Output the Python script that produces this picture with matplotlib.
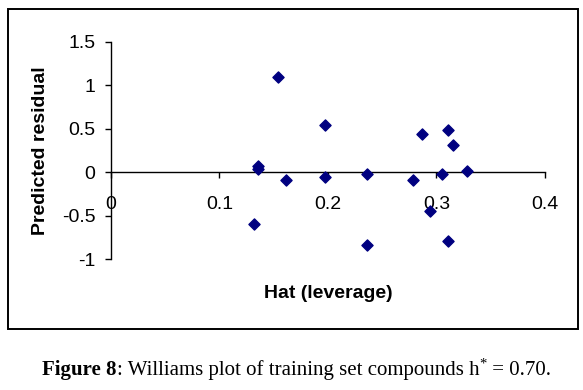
import matplotlib
matplotlib.use("Agg")
import matplotlib.pyplot as plt
from matplotlib.patches import Rectangle

# Williams plot data (hat value, predicted residual)
hat = [0.154, 0.197, 0.287, 0.311, 0.3155, 0.136, 0.136, 0.161, 0.197,
       0.236, 0.278, 0.305, 0.3286, 0.294, 0.1315, 0.236, 0.311]
residual = [1.09, 0.54, 0.44, 0.49, 0.31, 0.07, 0.035, -0.09, -0.055,
            -0.015, -0.09, -0.02, 0.015, -0.445, -0.60, -0.835, -0.795]

xticks = [0, 0.1, 0.2, 0.3, 0.4]
xticklabels = ["0", "0.1", "0.2", "0.3", "0.4"]
yticks = [-1, -0.5, 0, 0.5, 1, 1.5]
yticklabels = ["-1", "-0.5", "0", "0.5", "1", "1.5"]

W, H = 583, 390
fig = plt.figure(figsize=(W / 100, H / 100), dpi=100)
plt.rcParams['font.family'] = ['Liberation Sans', 'DejaVu Sans']

# chart border
fig.patches.append(Rectangle((8 / W, 1 - 328.5 / H), 570 / W, 319.5 / H,
                             transform=fig.transFigure, fill=False,
                             edgecolor='black', linewidth=1.4))

ax = fig.add_axes([110.8 / W, 1 - 259.3 / H, (545 - 110.8) / W, (259.3 - 41.7) / H])
ax.scatter(hat, residual, marker='D', s=32, color='#000080', zorder=3, clip_on=False)

ax.set_xlim(0, 0.4)
ax.set_ylim(-1, 1.5)
ax.spines['right'].set_visible(False)
ax.spines['top'].set_visible(False)
ax.spines['bottom'].set_position(('data', 0))
ax.spines['left'].set_linewidth(1.0)
ax.spines['bottom'].set_linewidth(1.0)

ax.set_xticks(xticks)
ax.set_xticklabels(xticklabels, fontsize=14)
ax.set_yticks(yticks)
ax.set_yticklabels(yticklabels, fontsize=14)
ax.tick_params(axis='x', direction='out', length=4, width=1, pad=13)
ax.tick_params(axis='y', direction='out', length=4, width=1, pad=7)

fig.text(41 / W, 1 - 151 / H, "Predicted residual", rotation=90, ha='center',
         va='center', fontsize=14, fontweight='bold')
fig.text(328 / W, 1 - 293 / H, "Hat (leverage)", ha='center', va='center',
         fontsize=14, fontweight='bold')

# caption with mixed styles
serif = ['Liberation Serif', 'DejaVu Serif']
renderer = fig.canvas.get_renderer()
x = 42.5 / W
y = 1 - 375 / H
parts = [("Figure 8", 'bold', 15, 0), (": Williams plot of training set compounds h", 'normal', 15, 0),
         ("*", 'normal', 10.5, 7 / H), (" = 0.70.", 'normal', 15, 0)]
for s, wt, fs, dy in parts:
    t = fig.text(x, y + dy, s, ha='left', va='baseline', fontsize=fs,
                 fontweight=wt, family=serif)
    bb = t.get_window_extent(renderer=renderer)
    x += bb.width / W

fig.savefig("out.png", dpi=100)
